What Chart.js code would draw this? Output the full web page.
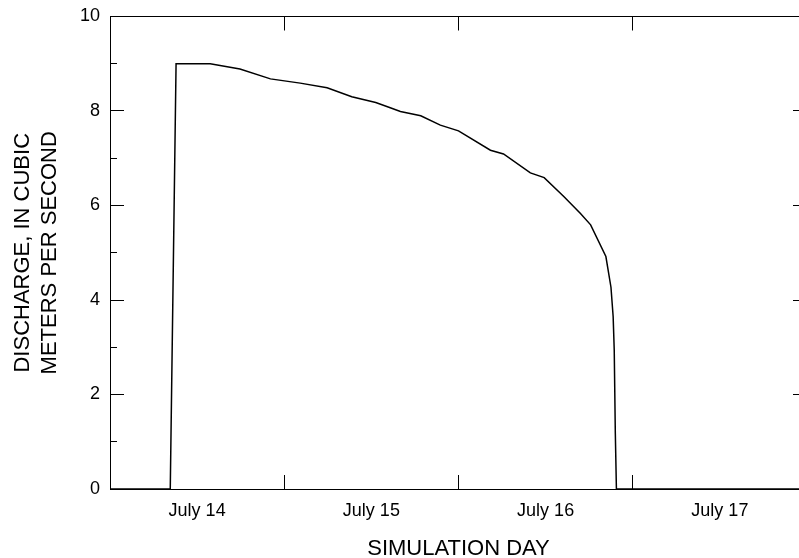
<!DOCTYPE html>
<html>
<head>
<meta charset="utf-8">
<title>Simulated discharge</title>
<script src="https://cdn.jsdelivr.net/npm/chart.js@4/dist/chart.umd.min.js"></script>
<style>
    html, body { margin: 0; padding: 0; background: #fff; overflow: hidden; }
    /* plot runs a little past the right edge of the window, like the original */
    #discharge-chart { display: block; }
</style>
</head>
<body>
<canvas id="discharge-chart" width="817" height="558"></canvas>
<script>
// Simulation time in hours since July 14 00:00, and discharge
const hours = [0, 8.3, 9.1, 13.8, 17.9, 22.1, 26.2, 29.9, 33.3, 36.6, 38.6, 40.0, 42.8, 45.5,
    48.0, 52.4, 54.2, 57.9, 59.8, 62.5, 64.8, 66.2, 68.3, 69.0, 69.3, 69.45, 69.6, 69.75, 96];
const discharge = [0, 0, 9.0, 9.0, 8.89, 8.68, 8.59, 8.49, 8.30, 8.18, 8.07, 7.99, 7.90, 7.70,
    7.58, 7.17, 7.09, 6.69, 6.59, 6.19, 5.83, 5.59, 4.92, 4.27, 3.65, 2.94, 1.18, 0, 0];

// Day labels sit at noon of each day, tick marks at midnight
const dayLabels = ['July 14', 'July 15', 'July 16', 'July 17'];
const yLabels = ['0', '2', '4', '6', '8', '10'];

const fontFamily = '"Liberation Sans", Arial, Helvetica, sans-serif';
const black = '#000';

Chart.defaults.font.family = fontFamily;
Chart.defaults.color = black;

// midnight ticks only, skipping the frame corners
function dayTickColor(ctx) {
    const v = ctx.tick ? ctx.tick.value : 0;
    return (v % 24 === 0 && v > 0 && v < 96) ? black : 'transparent';
}

function dayLabel(value) {
    if (value % 24 !== 12) return '';
    return dayLabels[(value - 12) / 24];
}

// even values get a long tick, odd values a short one next to the axis
function leftTickDash(ctx) {
    const v = ctx.tick ? ctx.tick.value : 0;
    return v % 2 === 0 ? [] : [0, 7, 7, 100];
}
function rightTickDash(ctx) {
    const v = ctx.tick ? ctx.tick.value : 0;
    return v % 2 === 0 ? [] : [7, 100];
}

function xScale(position, showLabels, size) {
    return {
        type: 'linear',
        position: position,
        min: 0,
        max: 96,
        border: { display: true, color: black, width: 1 },
        grid: {
            drawOnChartArea: false,
            drawTicks: true,
            tickLength: -14,
            tickWidth: 1,
            tickColor: dayTickColor
        },
        ticks: {
            display: showLabels,
            stepSize: 12,
            autoSkip: false,
            maxRotation: 0,
            padding: 25,
            font: { size: 18 },
            callback: dayLabel
        },
        afterFit: s => {
            s.height = size;
            s.paddingLeft = 0;
            s.paddingRight = 0;
        }
    };
}

function yScale(position, showLabels, size, dash) {
    return {
        type: 'linear',
        position: position,
        min: 0,
        max: 10,
        border: { display: true, color: black, width: 1 },
        grid: {
            drawOnChartArea: false,
            drawTicks: true,
            tickLength: -14,
            tickWidth: 1,
            tickColor: black,
            tickBorderDash: dash
        },
        ticks: {
            display: showLabels,
            stepSize: 1,
            autoSkip: false,
            padding: 24,
            font: { size: 18 },
            callback: v => (v % 2 === 0 ? yLabels[v / 2] : '')
        },
        afterFit: s => {
            s.width = size;
            s.paddingTop = 0;
            s.paddingBottom = 0;
        }
    };
}

const scales = {
    x: xScale('bottom', true, 69),
    x2: xScale('top', false, 16.5),
    y: yScale('left', true, 110, leftTickDash),
    y2: yScale('right', false, 10, rightTickDash)
};
scales.x.title = {
    display: true,
    text: 'SIMULATION DAY',
    font: { size: 22 },
    padding: { top: 0, bottom: -4 }
};
scales.y.title = {
    display: true,
    text: ['DISCHARGE, IN CUBIC', 'METERS PER SECOND'],
    font: { size: 22 },
    padding: { top: 10, bottom: 0 }
};

new Chart(document.getElementById('discharge-chart'), {
    type: 'line',
    data: {
        datasets: [{
            label: 'Discharge',
            data: hours.map((h, i) => ({ x: h, y: discharge[i] })),
            borderColor: black,
            borderWidth: 1.5,
            pointRadius: 0,
            tension: 0,
            fill: false,
            xAxisID: 'x',
            yAxisID: 'y'
        }]
    },
    options: {
        responsive: false,
        animation: false,
        layout: { padding: 0 },
        plugins: {
            legend: { display: false },
            tooltip: { enabled: false }
        },
        scales: scales
    }
});
</script>
</body>
</html>
